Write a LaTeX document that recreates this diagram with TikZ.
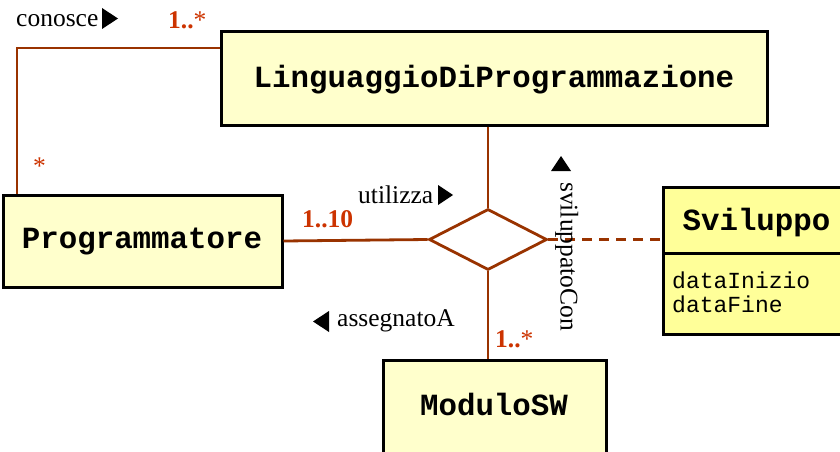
\documentclass[tikz,border=0pt]{standalone}
\usepackage{fontspec}
\setmainfont{Liberation Serif}
\newfontfamily\monofam{Liberation Mono}
\usetikzlibrary{shapes.geometric}
\definecolor{linebrown}{RGB}{153,51,0}
\definecolor{multred}{RGB}{204,51,0}
\definecolor{clsfill}{RGB}{255,255,204}
\definecolor{assocfill}{RGB}{255,255,153}
\begin{document}
\begin{tikzpicture}[x=1pt,y=-1pt,
  cls/.style={draw=black, line width=3pt, fill=clsfill, inner sep=0pt},
  assoccls/.style={draw=black, line width=3pt, fill=assocfill, inner sep=0pt},
  clsname/.style={font=\monofam\bfseries\fontsize{30.8}{36}\selectfont, inner sep=0pt, anchor=base},
  attr/.style={font=\monofam\fontsize{23}{25}\selectfont, inner sep=0pt, anchor=base west},
  lbl/.style={font=\fontsize{25.5}{28}\selectfont, inner sep=0pt, anchor=base west},
  mult/.style={font=\fontsize{25.5}{28}\selectfont, text=multred, inner sep=0pt, anchor=base west},
  conn/.style={draw=linebrown, line width=2.8pt},
  tri/.style={fill=black}
]
\clip (0,0) rectangle (840,452);
\useasboundingbox (0,0) rectangle (840,452);

% classes
\node[cls, minimum width=546pt, minimum height=93pt] (ling) at (494,78.5) {};
\node[clsname] (lingT) at (494,87.5) {LinguaggioDiProgrammazione};
\node[cls, minimum width=279pt, minimum height=92pt] (prog) at (142.5,241) {};
\node[clsname] (progT) at (142,248) {Programmatore};
\node[cls, minimum width=223pt, minimum height=110pt] (mod) at (494.5,415) {};
\node[clsname] (modT) at (494,415) {ModuloSW};
\node[assoccls, minimum width=197pt, minimum height=66pt] (svtop) at (761.5,220) {};
\node[assoccls, minimum width=197pt, minimum height=81pt] (svbot) at (761.5,293.5) {};
\node[clsname] (svT) at (756.5,230) {Sviluppo};
\node[attr] (a1) at (672,288) {dataInizio};
\node[attr] (a2) at (672,312) {dataFine};

% diamond
\node[diamond, draw=linebrown, line width=2.8pt, fill=white, inner sep=0pt,
      minimum width=118pt, minimum height=61pt] (dia) at (488,239.5) {};

% connectors
\coordinate (c1) at (17,48);
\draw[conn] (ling.west |- c1) -- (c1) -- (c1 |- prog.north);
\draw[conn] (dia.north |- ling.south) -- (dia.north);
\draw[conn] (prog.east) -- (dia.west);
\draw[conn, dash pattern=on 10pt off 7pt] (dia.east) -- (svtop.west |- dia.east);
\draw[conn] (dia.south) -- (dia.south |- mod.north);

% labels
\node[lbl] (lconosce) at (16,27) {conosce};
\fill[tri] (102,8) -- (102,29) -- (118,18.5) -- cycle;
\node[lbl] (lutil) at (358,203) {utilizza};
\fill[tri] (438,185) -- (438,205) -- (453,195) -- cycle;
\node[lbl] (lass) at (337,326) {assegnatoA};
\fill[tri] (329,311) -- (329,332) -- (313,321.5) -- cycle;
\node[lbl, rotate=-90] (lsvil) at (560.5,182) {sviluppatoCon};
\fill[tri] (551,171) -- (571,171) -- (561,156) -- cycle;

% multiplicities
\node[mult] (m1) at (168,29) {\textbf{1..}*};
\node[mult] (m2) at (33,174) {*};
\node[mult] (m3) at (302,227) {\textbf{1..10}};
\node[mult] (m4) at (495,347) {\textbf{1..}*};
\end{tikzpicture}
\end{document}
